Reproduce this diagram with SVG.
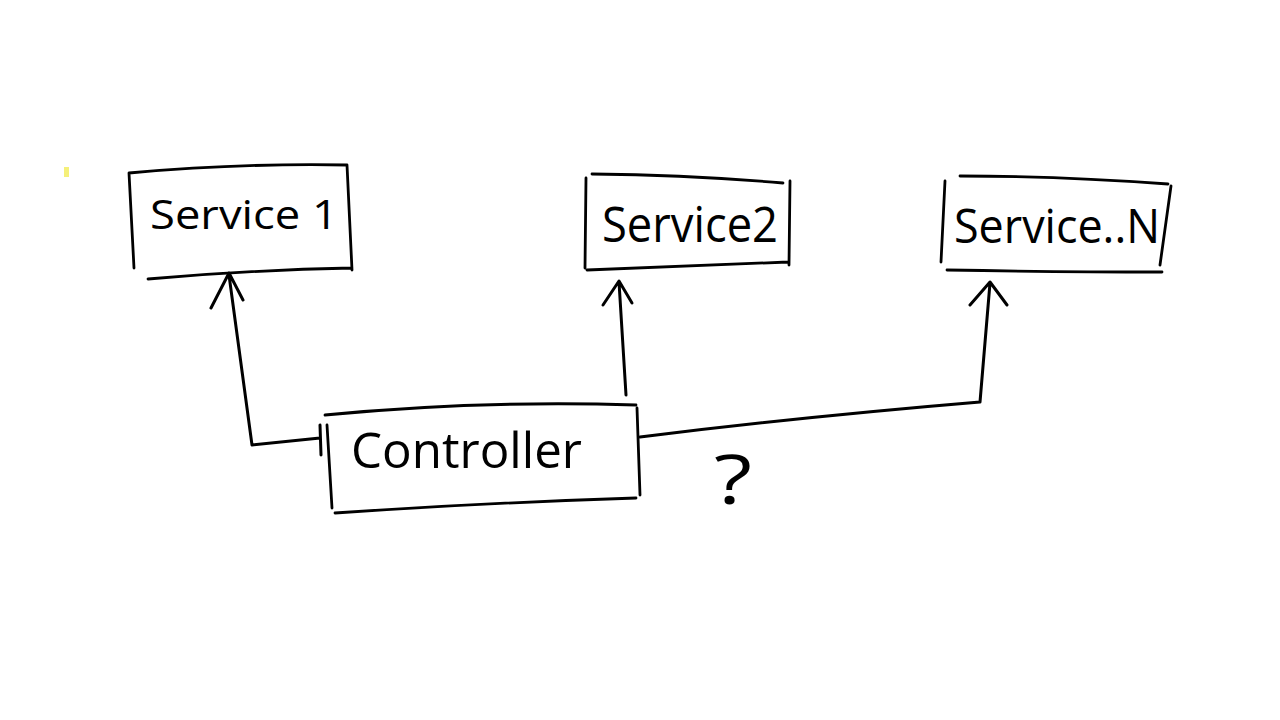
<svg xmlns="http://www.w3.org/2000/svg" width="1280" height="720" viewBox="0 0 1280 720">
<style>
.box{fill:none;stroke:#000;stroke-width:2.8;stroke-linecap:round;stroke-linejoin:round}
.conn{fill:none;stroke:#000;stroke-width:3;stroke-linecap:round;stroke-linejoin:round}
.lbl{font-family:"Open Sans","DejaVu Sans",sans-serif;fill:#000;font-weight:400}
</style>
<rect width="1280" height="720" fill="#fff"/>
<rect x="64" y="167" width="5" height="10" fill="#f5f07a"/>
<g id="service1">
<path class="box" d="M129,173 Q240,163 347,165 M347,165 L352,270 M148,279 Q250,270 352,268 M129,173 L134,268"/>
<text class="lbl" x="150" y="229" font-size="41" textLength="188" lengthAdjust="spacingAndGlyphs">Service 1</text>
</g>
<g id="service2">
<path class="box" d="M592,174 Q690,175 783,183 M790,181 L789,265 M587,270 Q690,266 788,262 M586,178 L585,268"/>
<text class="lbl" x="602" y="242" font-size="50" textLength="176" lengthAdjust="spacingAndGlyphs">Service2</text>
</g>
<g id="serviceN">
<path class="box" d="M960,176 Q1060,176 1168,184 M1171,186 L1160,265 M947,270 Q1060,272 1162,272 M945,181 L941,262"/>
<text class="lbl" x="954" y="243" font-size="48" textLength="206" lengthAdjust="spacingAndGlyphs">Service..N</text>
</g>
<g id="controller">
<path class="box" d="M325,415 Q480,400 636,405 M637,408 L640,495 M335,513 Q480,503 636,498 M327,425 L332,508"/>
<text class="lbl" x="351" y="468" font-size="50" textLength="231" lengthAdjust="spacingAndGlyphs">Controller</text>
</g>
<g id="connectors">
<path class="conn" d="M320,438 L252,445 L229,275 M211,308 L229,273 L243,300 M320,425 L321,455"/>
<path class="conn" d="M626,395 L619,282 M603,305 L619,281 L632,303"/>
<path class="conn" d="M640,437 Q800,417 980,402 L990,283 M970,305 L990,282 L1007,305"/>
</g>
<text class="lbl" x="714" y="504" font-size="68" textLength="38" lengthAdjust="spacingAndGlyphs">?</text>
</svg>
